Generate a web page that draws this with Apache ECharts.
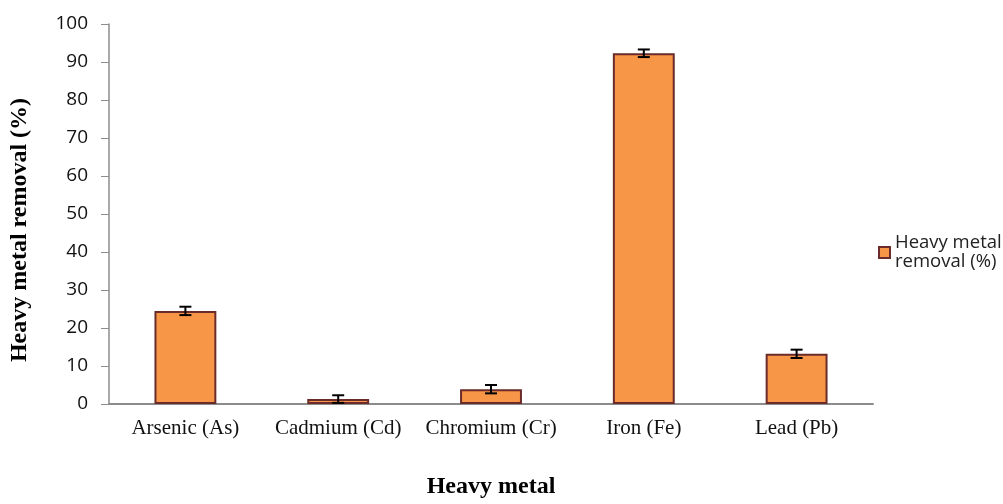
<!DOCTYPE html>
<html>
<head>
<meta charset="utf-8">
<script src="https://cdn.jsdelivr.net/npm/echarts@6/dist/echarts.min.js"></script>
<style>html,body{margin:0;padding:0;background:#fff}#c{width:1003px;height:504px}</style>
</head>
<body>
<div id="c"></div>
<script>
const categories = ['Arsenic (As)', 'Cadmium (Cd)', 'Chromium (Cr)', 'Iron (Fe)', 'Lead (Pb)'];
const removal = [24.5, 1.3, 3.9, 92.3, 13.2];
const errors = [1.1, 1.0, 1.1, 1.0, 1.1];
const yTicks = [0, 10, 20, 30, 40, 50, 60, 70, 80, 90, 100];
const seriesName = 'Heavy metal removal (%)';

const chart = echarts.init(document.getElementById('c'));
const errData = removal.map((v, i) => [i, v - errors[i], v + errors[i]]);
chart.setOption({
  animation: false,
  grid: { left: 109, right: 130, top: 24, bottom: 97, containLabel: false },
  legend: {
    data: [{ name: seriesName, icon: 'rect' }],
    orient: 'vertical',
    left: 878, top: 224, padding: 0,
    itemWidth: 11, itemHeight: 11, itemGap: 4,
    formatter: () => 'Heavy metal\nremoval (%)',
    textStyle: { fontFamily: 'Open Sans', fontSize: 18.5, color: '#222', lineHeight: 19, padding: [19, 0, 0, 0] }
  },
  xAxis: {
    type: 'category',
    data: categories,
    name: 'Heavy metal',
    nameLocation: 'middle',
    nameGap: 71,
    nameTextStyle: { fontFamily: 'Liberation Serif', fontWeight: 'bold', fontSize: 24, color: '#000' },
    axisLine: { lineStyle: { color: '#8c8c8c', width: 2 } },
    axisTick: { show: false },
    axisLabel: { interval: 0, hideOverlap: false, fontFamily: 'Liberation Serif', fontSize: 21, color: '#111', margin: 14 }
  },
  yAxis: {
    type: 'value',
    min: 0, max: 100, interval: 10,
    name: 'Heavy metal removal (%)',
    nameLocation: 'middle',
    nameGap: 77,
    nameRotate: 90,
    nameTextStyle: { fontFamily: 'Liberation Serif', fontWeight: 'bold', fontSize: 24, color: '#000', padding: [0, 32, 0, 0] },
    axisLine: { show: true, lineStyle: { color: '#8c8c8c', width: 1.5 } },
    axisTick: { show: true, inside: false, length: 8, lineStyle: { color: '#8c8c8c' } },
    splitLine: { show: false },
    axisLabel: {
      fontFamily: 'Open Sans', fontSize: 19, color: '#111', margin: 21,
      formatter: v => yTicks.includes(v) ? String(v) : ''
    }
  },
  series: [
    {
      name: seriesName,
      type: 'bar',
      data: removal,
      barWidth: '40.5%',
      itemStyle: { color: '#F79646', borderColor: '#6B2B2B', borderWidth: 2 }
    },
    {
      type: 'custom',
      name: 'err',
      data: errData,
      z: 10,
      renderItem: (params, api) => {
        const x = api.value(0);
        const lo = api.coord([x, api.value(1)]);
        const hi = api.coord([x, api.value(2)]);
        const hw = 6;
        const st = { stroke: '#000', lineWidth: 2 };
        return {
          type: 'group',
          children: [
            { type: 'line', shape: { x1: lo[0], y1: lo[1], x2: hi[0], y2: hi[1] }, style: st },
            { type: 'line', shape: { x1: lo[0] - hw, y1: lo[1], x2: lo[0] + hw, y2: lo[1] }, style: st },
            { type: 'line', shape: { x1: hi[0] - hw, y1: hi[1], x2: hi[0] + hw, y2: hi[1] }, style: st }
          ]
        };
      }
    }
  ]
});
</script>
</body>
</html>
